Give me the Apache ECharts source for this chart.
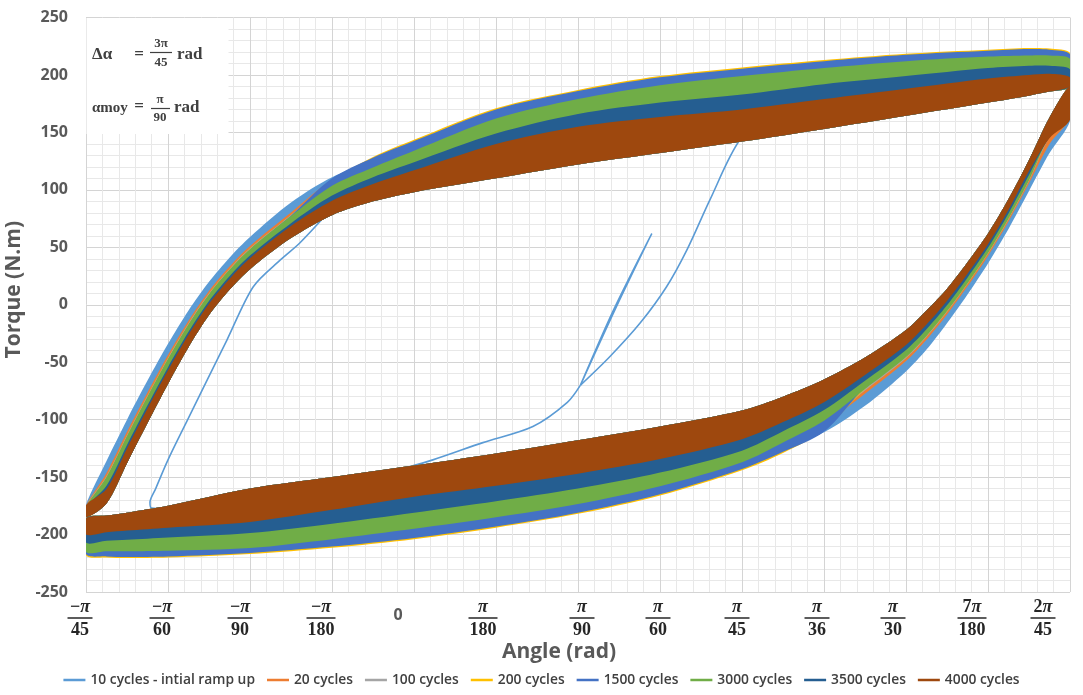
<!DOCTYPE html>
<html><head><meta charset="utf-8">
<script src="https://cdn.jsdelivr.net/npm/echarts@6/dist/echarts.min.js"></script>
<style>html,body{margin:0;padding:0;background:#fff}#c{width:1083px;height:695px}</style>
</head><body><div id="c"></div>
<script>
// Angles are stored in degrees (1 unit = π/180 rad); torque in N.m
const upperAngles = [-4, -3.75, -3.5, -3.25, -3, -2.75, -2.5, -2.25, -2, -1.5, -1, -0.5, 0, 1, 2, 3, 4, 5, 6, 7, 7.5, 7.75, 8];
const lowerAngles = [-4, -3.75, -3.5, -3, -2, -1, 0, 1, 2, 3, 4, 4.5, 5, 5.5, 6, 6.25, 6.5, 6.75, 7, 7.25, 7.5, 7.75, 8];

// innermost edge of the loops (last cycles)
const innerUpper = [-185, -173, -138, -103, -69, -37, -9, 13, 31, 58, 78, 90, 98, 110, 122, 132, 142, 153, 164.5, 176, 182, 185.5, 190];
const innerLower = [-186, -183.5, -181, -175, -160, -150, -140, -129.5, -118, -106, -92, -80, -65, -46, -22, -5, 14, 37, 62, 92, 126, 163, 190];

// outer edge of each group of cycles, upper branch
const upper10   = [-174, -136, -100, -66, -34, -5, 20, 41, 59, 89, 111, 124, 134, 161, 178, 190, 198, 205, 210, 214, 215.5, 215.5, 213];
const upper20   = [-175, -146.4, -110.6, -76.4, -43.8, -14, 11.9, 33.2, 51.2, 80.3, 108.5, 123, 135, 163, 180, 192, 200, 207, 212, 215.5, 217, 217, 214];
const upper100  = [-175.5, -149, -113.3, -79, -46.3, -16.2, 9.9, 31.2, 49.2, 78.2, 107, 122, 136, 165, 181, 193, 201, 208, 213, 216.5, 218, 218, 215];
const upper200  = [-176, -150.1, -114.4, -80.1, -47.3, -17.2, 9, 30.4, 48.4, 77.2, 108, 128.5, 143.5, 171, 187, 199, 206.5, 213, 218.5, 222, 223.5, 223, 219];
const upper1500 = [-176.5, -150.8, -115.2, -80.8, -48, -17.8, 8.4, 29.8, 47.8, 77.5, 110, 128, 142.5, 170, 186, 198, 205.5, 212, 217.5, 221, 222.5, 222, 218];
const upper3000 = [-176, -150.1, -114.4, -80.1, -47.3, -17.2, 9, 30.4, 48.4, 77.2, 103.5, 119.5, 134, 162, 179, 191, 199, 206, 212, 216, 217, 217, 214];
const upper3500 = [-176.5, -157.5, -122, -87.5, -54.3, -23.6, 3.2, 24.8, 42.8, 71, 95, 111, 124, 149, 166, 176, 183, 192, 199, 206, 208, 208, 205];
const upper4000 = [-174.5, -160.4, -125.1, -90.4, -57.1, -26.1, 0.9, 22.5, 40.5, 68.5, 90.5, 105, 117, 140, 155, 163.5, 170, 179, 188, 197, 200, 201, 198];

// outer edge of each group of cycles, lower branch
const lower10   = [-213, -215, -215.5, -215, -212, -206.5, -199, -189, -177, -161, -139, -125, -111, -88, -58, -39, -16, 9, 36, 66, 99, 132, 160];
const lower20   = [-213.5, -215.5, -216, -215.5, -212.5, -207, -199.5, -189.5, -177.5, -161.5, -139.5, -124.5, -104, -77.5, -49, -30.5, -8.5, 16, 42.5, 72.5, 105.8, 140, 163];
const lower100  = [-214, -216, -216.5, -216, -213, -207.5, -200, -190, -178, -162, -140, -125, -103, -74.6, -46.5, -28.1, -6.4, 18, 44.3, 74.3, 107.6, 146, 165];
const lower200  = [-218, -220, -220.5, -220, -217, -211.5, -204, -194, -182, -166, -144, -129, -109, -73.3, -45.4, -27.1, -5.5, 18.8, 45.1, 75.1, 108.5, 147, 166];
const lower1500 = [-217, -219, -219.5, -219, -216, -210.5, -203, -193, -181, -165, -143, -128, -110.5, -72, -44.3, -26.1, -4.6, 19.6, 45.9, 75.9, 109.3, 148, 167];
const lower3000 = [-215, -214.5, -214.5, -214, -211.7, -204, -195, -185, -173.5, -157.9, -137, -119.8, -100.9, -73.3, -45.4, -27.1, -5.5, 18.8, 45.1, 75.1, 108.5, 147, 166];
const lower3500 = [-207, -205.5, -204.5, -202.5, -198.6, -190.5, -181, -171, -160, -146.1, -127, -110.2, -91.7, -66.2, -39.3, -21.3, -0.4, 23.6, 49.5, 79.5, 113, 146, 165];
const lower4000 = [-200, -198, -196.5, -194, -189, -178.5, -167, -157.5, -147, -134.3, -117, -102.1, -84.8, -61.1, -35, -17.2, 3.2, 26.9, 52.6, 82.6, 116.3, 145, 161];

// initial ramp-up path of the first cycles [angle, torque]
const rampSpike = [[2.03, -70], [2.46, -3], [2.9, 62], [2.43, -5], [2.03, -70]];
const rampRight = [[2.03, -70], [2.39, -45], [2.76, -15.7], [3.08, 15.7], [3.33, 48], [3.61, 91.5], [3.98, 144], [4.3, 158]];
const rampLower = [[2.03, -70], [1.87, -85], [1.45, -106], [0.84, -120], [0.23, -135], [-0.5, -150]];
const rampLeft  = [[-2.8, -178], [-3.2, -177], [-3.22, -172], [-3.15, -160], [-3.0, -135], [-2.76, -100], [-2.28, -30.5], [-1.96, 15.7], [-1.63, 39], [-1.39, 54], [-1.0, 84]];

const seriesNames = ['10 cycles - intial ramp up', '20 cycles', '100 cycles', '200 cycles', '1500 cycles', '3000 cycles', '3500 cycles', '4000 cycles'];
const seriesColors = ['#5B9BD5', '#ED7D31', '#A5A5A5', '#FFC000', '#4472C4', '#70AD47', '#255E91', '#9E480E'];

// tick labels (fractions of π)
const xTickNum = ['−π', '−π', '−π', '−π', '0', 'π', 'π', 'π', 'π', 'π', 'π', '7π', '2π'];
const xTickDen = ['45', '60', '90', '180', '', '180', '90', '60', '45', '36', '30', '180', '45'];
// layout only: horizontal offset of each tick label (px)
const xLabelShift = [-6, -6, -10, -11, -16, -13, 4, -2, -5, -7, -13, -16, -27];

const bandsUpper = [upper10, upper20, upper100, upper200, upper1500, upper3000, upper3500, upper4000];
const bandsLower = [lower10, lower20, lower100, lower200, lower1500, lower3000, lower3500, lower4000];

const serifFont = 'Liberation Serif';
const fracColor = '#262626';
const xRich = {
  n: {fontFamily: serifFont, fontWeight: 'bold', fontSize: 18, lineHeight: 16, color: fracColor},
  p: {fontFamily: serifFont, fontWeight: 'bold', fontStyle: 'italic', fontSize: 18, lineHeight: 16, color: fracColor},
  d: {fontFamily: serifFont, fontWeight: 'bold', fontSize: 18, lineHeight: 18, color: fracColor},
  z: {fontFamily: 'Open Sans', fontWeight: 'bold', fontSize: 16, lineHeight: 32, color: '#595959'},
  b2: {width: 25, height: 1.5, backgroundColor: fracColor, lineHeight: 6, fontSize: 1},
  b3: {width: 29, height: 1.5, backgroundColor: fracColor, lineHeight: 6, fontSize: 1}
};
xLabelShift.forEach((s, i) => { xRich['s' + i] = {width: Math.max(1, 2 * Math.abs(s)), fontSize: 1, lineHeight: 1}; });

function xLabel(v) {
  const i = Math.round(v + 4);
  if (i < 0 || i >= xTickNum.length) return '';
  const sp = `{s${i}| }`;
  const wrap = t => (xLabelShift[i] < 0 ? t + sp : sp + t);
  const den = xTickDen[i];
  if (!den) return wrap(`{z|${xTickNum[i]}}`);
  const pre = xTickNum[i].replace('π', '');
  const numTxt = (pre ? `{n|${pre}}` : '') + '{p|π}';
  const bar = den.length > 2 ? '{b3| }' : '{b2| }';
  return wrap(numTxt) + '\n' + wrap(bar) + '\n' + wrap(`{d|${den}}`);
}

function bandSeries(k) {
  const up = bandsUpper[k], lo = bandsLower[k], color = seriesColors[k];
  return {
    name: seriesNames[k], type: 'custom', coordinateSystem: 'cartesian2d', clip: true, z: 3,
    itemStyle: {color: color}, data: [[0, 0]], encode: {x: 0, y: 1}, silent: true,
    renderItem: function (params, api) {
      const oU = upperAngles.map((a, i) => api.coord([a, up[i]]));
      const iU = upperAngles.map((a, i) => api.coord([a, innerUpper[i]])).reverse();
      const oL = lowerAngles.map((a, i) => api.coord([a, lo[i]]));
      const iL = lowerAngles.map((a, i) => api.coord([a, innerLower[i]])).reverse();
      return {type: 'group', children: [
        {type: 'polygon', shape: {points: oU.concat(iU), smooth: 0.3}, style: {fill: color}},
        {type: 'polygon', shape: {points: oL.concat(iL), smooth: 0.3}, style: {fill: color}}
      ]};
    }
  };
}

function rampSeries(d) {
  return {name: seriesNames[0], type: 'line', data: d, smooth: 0.3, showSymbol: false, symbol: 'none', z: 2,
    clip: true, silent: true, lineStyle: {color: seriesColors[0], width: 1.6}, itemStyle: {color: seriesColors[0]}};
}

const series = [rampSeries(rampSpike), rampSeries(rampRight), rampSeries(rampLower), rampSeries(rampLeft)];
for (let k = 0; k < seriesNames.length; k++) series.push(bandSeries(k));

const txt = (text, x, y, size, align) => ({
  type: 'text', x: x, y: y, z: 101, silent: true,
  style: {text: text, fontFamily: serifFont, fontWeight: 'bold', fontSize: size, fill: '#404040',
    align: align, textAlign: align, verticalAlign: 'middle', textVerticalAlign: 'middle'}
});

const chart = echarts.init(document.getElementById('c'), null, {renderer: 'canvas'});
chart.setOption({
  animation: false,
  backgroundColor: '#ffffff',
  color: seriesColors,
  grid: {left: 86, right: 13, top: 17.5, bottom: 103, containLabel: false, outerBoundsMode: 'none'},
  xAxis: {
    type: 'value', min: -4, max: 8, interval: 1,
    axisLine: {show: false}, axisTick: {show: false},
    splitLine: {show: true, lineStyle: {color: '#d4d4d4', width: 1}},
    minorTick: {show: false, splitNumber: 5},
    minorSplitLine: {show: true, lineStyle: {color: '#e8e8e8', width: 1}},
    axisLabel: {formatter: xLabel, rich: xRich, margin: 7, showMinLabel: true, showMaxLabel: true},
    name: 'Angle (rad)', nameLocation: 'middle', nameGap: 50, nameMoveOverlap: false,
    nameTextStyle: {fontFamily: 'Open Sans', fontWeight: 'bold', fontSize: 21, color: '#595959', padding: [0, 38, 0, 0]}
  },
  yAxis: {
    type: 'value', min: -250, max: 250, interval: 50,
    axisLine: {show: false}, axisTick: {show: false},
    splitLine: {show: true, lineStyle: {color: '#d4d4d4', width: 1}},
    minorTick: {show: false, splitNumber: 5},
    minorSplitLine: {show: true, lineStyle: {color: '#e8e8e8', width: 1}},
    axisLabel: {fontFamily: 'Open Sans', fontWeight: 'bold', fontSize: 16, color: '#595959', margin: 18},
    name: 'Torque (N.m)', nameLocation: 'middle', nameGap: 52,
    nameTextStyle: {fontFamily: 'Open Sans', fontWeight: 'bold', fontSize: 21, color: '#595959', padding: [0, 0, 0, 30]}
  },
  legend: {
    data: seriesNames.map(n => ({name: n, icon: 'rect'})),
    bottom: 3, left: 'center', itemWidth: 22, itemHeight: 2.5, itemGap: 12,
    textStyle: {fontFamily: 'Open Sans', fontSize: 13.8, fontWeight: 600, color: '#404040'}
  },
  graphic: [
    {type: 'rect', z: 100, silent: true, shape: {x: 86.5, y: 18, width: 142, height: 116}, style: {fill: '#ffffff'}},
    txt('Δα', 92, 55, 17, 'left'),
    txt('=', 139, 55, 17, 'center'),
    txt('3π', 161, 44, 13, 'center'),
    {type: 'line', z: 101, silent: true, shape: {x1: 150, y1: 52.5, x2: 172, y2: 52.5}, style: {stroke: '#404040', lineWidth: 1.2}},
    txt('45', 161, 63, 13, 'center'),
    txt('rad', 177, 55, 17, 'left'),
    txt('αmoy', 92, 108, 15, 'left'),
    txt('=', 139, 107, 17, 'center'),
    txt('π', 160, 100, 13, 'center'),
    {type: 'line', z: 101, silent: true, shape: {x1: 151, y1: 108.5, x2: 170, y2: 108.5}, style: {stroke: '#404040', lineWidth: 1.2}},
    txt('90', 160, 118, 13, 'center'),
    txt('rad', 174, 108, 17, 'left')
  ],
  series: series
});
</script>
</body></html>
